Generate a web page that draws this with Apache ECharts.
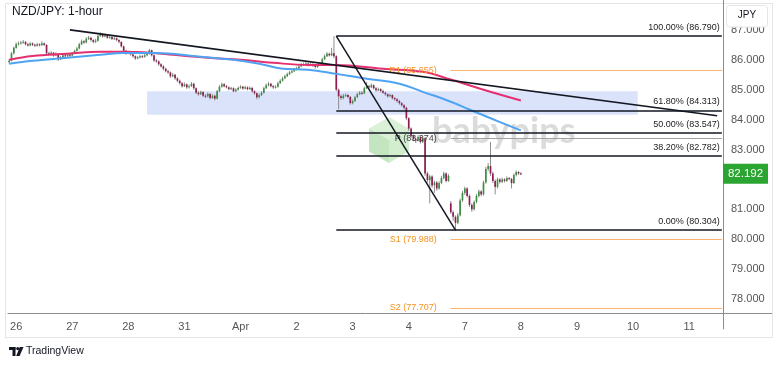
<!DOCTYPE html>
<html><head><meta charset="utf-8">
<script src="https://cdn.jsdelivr.net/npm/echarts@6/dist/echarts.min.js"></script>
<style>html,body{margin:0;padding:0;background:#fff}#c{width:780px;height:366px}</style>
</head><body><div id="c"></div>
<script>
// ---------- DATA ----------
const dayLabels = ['26','27','28','31','Apr','2','3','4','7','8','9','10','11'];
const firstDayIndex = 3;      // hourly bar index of the first day label
const barsPerDay = 24;
const totalBars = 306;

const firstOpen = 85.92;
const gapOpens = {189: 81.20};   // Monday open gap
const closes = [
85.97,86.22,86.40,86.52,86.55,86.58,86.60,86.52,86.48,86.55,
86.50,86.47,86.52,86.49,86.55,86.50,86.22,86.18,86.24,86.15,
86.20,86.02,86.08,86.15,86.12,86.18,86.14,86.22,86.30,86.38,
86.52,86.62,86.58,86.70,86.74,86.66,86.60,86.64,86.80,86.86,
86.78,86.82,86.74,86.76,86.70,86.72,86.66,86.60,86.45,86.30,
86.22,86.25,86.18,86.12,86.05,86.08,86.12,86.10,86.15,86.20,
86.32,86.15,85.98,85.95,85.85,85.78,85.70,85.62,85.58,85.45,
85.50,85.38,85.30,85.22,85.12,85.18,85.08,85.12,85.20,85.05,
84.90,84.85,84.92,84.80,84.78,84.86,84.72,84.80,84.70,84.95,
85.10,85.18,85.12,85.08,85.02,85.05,84.95,85.00,85.06,85.10,
85.04,85.08,85.02,85.06,84.95,84.88,84.75,84.82,84.90,85.05,
85.15,85.20,85.12,85.08,85.10,85.22,85.30,85.38,85.45,85.52,
85.58,85.62,85.68,85.72,85.78,85.84,85.86,85.88,85.82,85.86,
85.80,85.76,85.84,85.88,86.02,86.12,86.20,86.15,86.22,86.12,
85.00,84.78,84.72,84.80,84.82,84.76,84.55,84.62,84.75,84.85,
84.90,84.88,85.05,85.12,85.08,85.15,85.05,84.98,85.02,84.96,
84.90,84.85,84.78,84.82,84.72,84.68,84.62,84.55,84.48,84.40,
84.05,83.70,83.45,83.35,83.30,83.42,83.25,83.38,82.20,81.98,
82.10,81.80,81.90,81.70,81.88,82.05,82.20,81.95,82.12,80.90,
80.75,80.55,80.80,81.30,81.55,81.70,81.45,81.15,81.00,81.25,
81.45,81.60,81.50,81.90,82.35,82.45,82.20,81.95,81.75,82.00,
81.92,82.00,81.95,82.05,82.02,81.88,82.15,82.25,82.20,82.192
];
const highs = [
86.02,86.26,86.44,86.58,86.61,86.63,86.66,86.63,86.56,86.59,
86.58,86.54,86.57,86.55,86.62,86.58,86.52,86.27,86.29,86.26,
86.25,86.22,86.13,86.20,86.19,86.23,86.21,86.26,86.34,86.43,
86.57,86.68,86.66,86.76,86.80,86.77,86.69,86.70,86.85,86.92,
86.89,86.87,86.84,86.81,86.79,86.77,86.75,86.69,86.62,86.48,
86.34,86.30,86.28,86.21,86.15,86.13,86.17,86.16,86.20,86.26,
86.37,86.34,86.18,86.03,85.98,85.89,85.82,85.74,85.67,85.61,
85.56,85.53,85.42,85.34,85.26,85.24,85.21,85.17,85.26,85.23,
85.08,84.95,84.97,84.95,84.85,84.91,84.89,84.85,84.83,84.99,
85.15,85.24,85.22,85.16,85.11,85.10,85.08,85.05,85.11,85.15,
85.13,85.13,85.11,85.11,85.09,84.98,84.91,84.87,84.95,85.10,
85.21,85.26,85.23,85.16,85.15,85.27,85.35,85.43,85.50,85.57,
85.63,85.67,85.73,85.77,85.83,85.89,85.91,85.93,85.91,85.91,
85.89,85.84,85.89,85.93,86.07,86.18,86.26,86.24,86.40,86.79,
86.15,85.04,84.84,84.86,84.88,84.86,84.79,84.68,84.80,84.90,
84.96,84.95,85.10,85.26,85.17,85.21,85.18,85.09,85.07,85.05,
85.00,84.94,84.88,84.87,84.85,84.76,84.72,84.66,84.59,84.52,
84.43,84.08,83.74,83.50,83.40,83.48,83.46,83.44,83.42,82.26,
82.16,82.14,81.96,81.95,81.94,82.12,82.26,82.24,82.18,81.28,
80.96,80.80,80.88,81.36,81.62,81.76,81.74,81.50,81.20,81.30,
81.52,81.66,81.64,81.96,82.42,82.55,83.25,82.26,82.00,82.06,
82.05,82.06,82.04,82.10,82.08,82.05,82.20,82.30,82.28,82.25
];
const lows = [
85.88,85.95,86.18,86.37,86.48,86.51,86.54,86.48,86.44,86.45,
86.46,86.43,86.44,86.45,86.47,86.46,86.18,86.14,86.15,86.10,
86.12,85.96,85.99,86.05,86.08,86.09,86.10,86.11,86.19,86.27,
86.35,86.49,86.53,86.55,86.66,86.61,86.55,86.56,86.61,86.76,
86.74,86.75,86.70,86.71,86.66,86.67,86.62,86.55,86.41,86.26,
86.17,86.19,86.14,86.07,86.00,86.02,86.05,86.06,86.07,86.12,
86.17,86.11,85.93,85.90,85.80,85.74,85.65,85.58,85.53,85.40,
85.42,85.33,85.25,85.17,85.07,85.09,85.03,85.04,85.09,85.00,
84.85,84.80,84.82,84.75,84.72,84.74,84.67,84.69,84.64,84.68,
84.92,85.07,85.08,85.04,84.98,84.99,84.91,84.92,84.97,85.03,
85.00,85.01,84.98,84.99,84.90,84.83,84.68,84.71,84.79,84.87,
85.02,85.11,85.08,85.03,85.04,85.07,85.19,85.27,85.35,85.42,
85.49,85.55,85.59,85.65,85.69,85.75,85.80,85.82,85.78,85.79,
85.76,85.71,85.73,85.81,85.85,85.99,86.09,86.11,86.12,86.05,
84.95,84.35,84.66,84.68,84.76,84.71,84.50,84.51,84.59,84.72,
84.82,84.83,84.85,85.02,85.03,85.05,85.00,84.93,84.95,84.91,
84.86,84.80,84.73,84.75,84.67,84.63,84.57,84.50,84.43,84.34,
83.98,83.62,83.38,83.28,83.22,83.27,83.20,83.22,82.12,81.90,
81.20,81.72,81.55,81.62,81.66,81.84,82.00,81.90,81.92,80.85,
80.62,80.30,80.50,80.76,81.25,81.48,81.40,81.08,80.92,80.96,
81.20,81.40,81.44,81.46,81.86,82.28,82.12,81.88,81.50,81.70,
81.86,81.88,81.90,81.92,81.97,81.70,81.85,82.10,82.15,82.15
];

// moving averages read at sample points [barIndex, value]
const maBlue = [[0,85.87],[10,85.97],[25,86.07],[39,86.17],[49,86.23],[62,86.23],[70,86.20],[82,86.10],[96,86.00],[107,85.87],[117,85.70],[128,85.67],[140,85.53],[153,85.37],[167,85.20],[177,84.93],[189,84.60],[197,84.34],[209,83.95],[219,83.64]];
const maPink = [[0,86.00],[10,86.13],[25,86.20],[39,86.27],[49,86.27],[62,86.23],[70,86.17],[85,86.07],[99,86.00],[113,85.90],[128,85.83],[140,85.83],[160,85.70],[177,85.60],[189,85.34],[203,85.00],[219,84.64]];

const trendline = [[26,87.00],[303,84.13]];
const fibDiagonal = [[140,86.790],[191,80.304]];
const fibStart = 140, lineEnd = 305, pivotStart = 189;
const fibNames = ['100.00%','61.80%','50.00%','38.20%','0.00%'];
const fibValues = [86.790,84.313,83.547,82.782,80.304];
const pivotNames = ['R1','P','S1','S2'];
const pivotValues = [85.655,83.374,79.988,77.707];
const zoneBars = [59,269];
const zonePrices = [84.95,84.16];
const yMin = 77, yMax = 88, yStep = 1;

// ---------- BUILD ----------
const UP = '#3e8e41', DOWN = '#8e1d52';
const FONT = 'Liberation Sans';
const categories = [];
for (let i = 0; i < totalBars; i++) {
  const k = (i - firstDayIndex) / barsPerDay;
  categories.push(Number.isInteger(k) && k >= 0 && k < dayLabels.length ? dayLabels[k] : '');
}
const candles = closes.map((c, i) => {
  const o = (i === 0) ? firstOpen : (gapOpens[i] !== undefined ? gapOpens[i] : closes[i - 1]);
  return [i, o, c, lows[i], highs[i]];
});

const fibLines = fibValues.map((v, j) => [
  {coord:[fibStart, v], label:{formatter: fibNames[j] + ' (' + v.toFixed(3) + ')'}},
  {coord:[lineEnd, v]}
]);
const pivotLines = pivotValues.map((v, j) => {
  const isP = pivotNames[j] === 'P';
  return [
    {coord:[pivotStart, v],
     lineStyle:{color: isP ? '#a0a0a0' : '#fbb26a', width: 1},
     label:{formatter: pivotNames[j] + ' (' + v.toFixed(3) + ')', position:'start', distance: 14,
            color: isP ? '#444' : '#f5921e', fontSize: 9, fontFamily: FONT}},
    {coord:[lineEnd, v]}
  ];
});

const chart = echarts.init(document.getElementById('c'), null, {renderer:'canvas'});
chart.setOption({
  animation: false,
  backgroundColor: '#ffffff',
  grid: {left: 8, right: 57, top: -2, bottom: 37, containLabel: false},
  xAxis: {
    type: 'category', data: categories, boundaryGap: true, offset: -16,
    axisLine: {show: true, lineStyle: {color: '#8c8c8c', width: 1}},
    axisTick: {show: false},
    splitLine: {show: false},
    axisLabel: {
      interval: (idx, val) => val !== '',
      color: '#555', fontSize: 11, fontFamily: FONT, margin: 8
    }
  },
  yAxis: {
    type: 'value', position: 'right', min: yMin, max: yMax, interval: yStep,
    axisLine: {show: true, lineStyle: {color: '#8c8c8c', width: 1}},
    axisTick: {show: false},
    splitLine: {show: false},
    axisLabel: {
      color: '#555', fontSize: 11, fontFamily: FONT, margin: 8,
      formatter: v => (v === yMin || v === yMax) ? '' : v.toFixed(3)
    }
  },
  series: [
    { // support / resistance zone
      type: 'line', z: 1, data: zoneBars.map((b, j) => [b, zonePrices[j]]),
      showSymbol: false, lineStyle: {opacity: 0}, silent: true,
      markArea: {silent: true, itemStyle: {color: '#dbe3fb'},
        data: [[{coord: [zoneBars[0], zonePrices[0]]}, {coord: [zoneBars[1], zonePrices[1]]}]]}
    },
    { // candles
      type: 'custom', z: 3, data: candles,
      encode: {x: 0, y: [1, 2, 3, 4]},
      renderItem: function (params, api) {
        const i = api.value(0), o = api.value(1), c = api.value(2), l = api.value(3), h = api.value(4);
        const pO = api.coord([i, o]), pC = api.coord([i, c]);
        const pL = api.coord([i, l]), pH = api.coord([i, h]);
        const bw = Math.max(1, api.size([1, 0])[0] * 0.72);
        const x = pO[0];
        const top = Math.min(pO[1], pC[1]);
        const hgt = Math.max(1, Math.abs(pO[1] - pC[1]));
        return {type: 'group', children: [
          {type: 'line', shape: {x1: x, y1: pH[1], x2: x, y2: pL[1]}, style: {stroke: '#8d8d8d', lineWidth: 1}},
          {type: 'rect', shape: {x: x - bw / 2, y: top, width: bw, height: hgt}, style: {fill: c >= o ? UP : DOWN}}
        ]};
      }
    },
    { // 200 MA (pink)
      type: 'line', z: 4, data: maPink, smooth: 0.4, showSymbol: false,
      lineStyle: {color: '#e5306f', width: 2}
    },
    { // 100 MA (blue)
      type: 'line', z: 4, data: maBlue, smooth: 0.4, showSymbol: false,
      lineStyle: {color: '#4ea4f2', width: 2}
    },
    { // descending trendline + fib & pivot levels
      type: 'line', z: 5, data: trendline, showSymbol: false,
      lineStyle: {color: '#131722', width: 1.6},
      markLine: {
        silent: true, symbol: ['none', 'none'], animation: false,
        lineStyle: {color: '#131722', width: 1.5, type: 'solid'},
        label: {show: true, position: 'insideEndTop', distance: [2, 4], color: '#222', fontSize: 9, fontFamily: FONT},
        emphasis: {disabled: true},
        data: fibLines.concat(pivotLines)
      }
    },
    { // fib diagonal
      type: 'line', z: 5, data: fibDiagonal, showSymbol: false,
      lineStyle: {color: '#131722', width: 1.5}
    }
  ]
});

const lastClose = closes[closes.length - 1];
const py = chart.convertToPixel({yAxisIndex: 0}, lastClose);
const cx = 389, cy = 140, R = 23;
const hv = [];
for (let k = 0; k < 6; k++) { const a = (-90 + 60 * k) * Math.PI / 180; hv.push([cx + R * Math.cos(a), cy + R * Math.sin(a)]); }
chart.setOption({
  graphic: [
    {type: 'rect', z: 0, silent: true, shape: {x: 5.5, y: 3.5, width: 767, height: 334}, style: {fill: 'none', stroke: '#e3e5ea', lineWidth: 1}},
    {type: 'line', z: 10, silent: true, shape: {x1: 723, y1: 313.5, x2: 772, y2: 313.5}, style: {stroke: '#8c8c8c', lineWidth: 1}},
    // watermark
    {type: 'polygon', z: 1, silent: true, shape: {points: [hv[0], hv[1], [cx, cy], hv[5]]}, style: {fill: 'rgba(150,215,140,0.35)'}},
    {type: 'polygon', z: 1, silent: true, shape: {points: [[cx, cy], hv[1], hv[2], hv[3]]}, style: {fill: 'rgba(120,200,110,0.33)'}},
    {type: 'polygon', z: 1, silent: true, shape: {points: [[cx, cy], hv[3], hv[4], hv[5]]}, style: {fill: 'rgba(105,190,95,0.4)'}},
    {type: 'text', z: 1, silent: true, left: 432, top: 113, style: {text: 'babypips', fill: 'rgba(160,160,160,0.38)', font: 'bold 36px Lato'}},
    // title
    {type: 'text', z: 20, left: 12, top: 6, style: {text: 'NZD/JPY: 1-hour', fill: '#131722', font: '12px ' + FONT}},
    // currency box
    {type: 'rect', z: 20, shape: {x: 726.5, y: 5.5, width: 41, height: 21.5, r: 3}, style: {fill: '#ffffff', stroke: '#e6e6e6', lineWidth: 1}},
    {type: 'text', z: 21, x: 747, y: 15.5, style: {text: 'JPY', fill: '#131722', font: '10px ' + FONT, align: 'center', verticalAlign: 'middle'}},
    // last price tag
    {type: 'rect', z: 20, shape: {x: 723, y: py - 10, width: 45, height: 20}, style: {fill: '#2ba531'}},
    {type: 'text', z: 21, x: 745.5, y: py, style: {text: lastClose.toFixed(3), fill: '#ffffff', font: '11.5px ' + FONT, align: 'center', verticalAlign: 'middle'}},
    // TradingView footer
    {type: 'rect', z: 20, shape: {x: 9, y: 347, width: 6.5, height: 3}, style: {fill: '#131722'}},
    {type: 'rect', z: 20, shape: {x: 12.5, y: 347, width: 3, height: 9}, style: {fill: '#131722'}},
    {type: 'circle', z: 20, shape: {cx: 17.8, cy: 348.6, r: 1.6}, style: {fill: '#131722'}},
    {type: 'polygon', z: 20, shape: {points: [[19.8, 347], [23.5, 347], [19.6, 356], [16.2, 356]]}, style: {fill: '#131722'}},
    {type: 'text', z: 20, left: 26, top: 346, style: {text: 'TradingView', fill: '#131722', font: '10.5px ' + FONT}}
  ]
});
</script>
</body></html>
